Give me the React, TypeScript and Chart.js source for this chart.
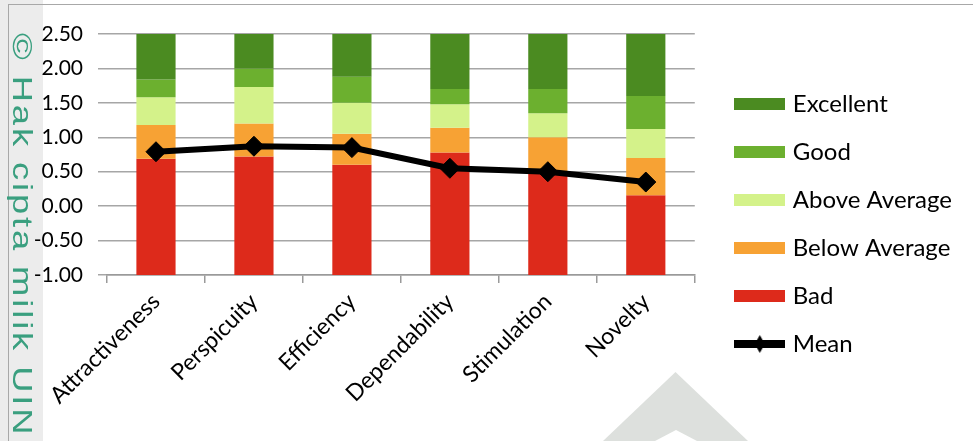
import React, { useEffect, useRef } from "react";
import { Chart, registerables } from "chart.js";

Chart.register(...registerables);

const categories = ["Attractiveness", "Perspicuity", "Efficiency", "Dependability", "Stimulation", "Novelty"];
const axisMin = -1.0;
const axisMax = 2.5;
const badUpper = [0.69, 0.72, 0.6, 0.78, 0.5, 0.16];
const belowAverageUpper = [1.18, 1.2, 1.05, 1.14, 1.0, 0.7];
const aboveAverageUpper = [1.58, 1.73, 1.5, 1.48, 1.35, 1.12];
const goodUpper = [1.84, 2.0, 1.88, 1.7, 1.7, 1.6];
const excellentUpper = [2.5, 2.5, 2.5, 2.5, 2.5, 2.5];
const meanValues = [0.79, 0.87, 0.85, 0.55, 0.5, 0.35];
const yTickValues = [-1.0, -0.5, 0.0, 0.5, 1.0, 1.5, 2.0, 2.5];

const seriesNames = ["Excellent", "Good", "Above Average", "Below Average", "Bad", "Mean"];
const seriesColors = ["#4b8b21", "#6cb02f", "#d4f28a", "#f7a234", "#dd2a1b", "#000000"];

const FONT = "Lato, 'Open Sans', sans-serif";

function range(lo: number[] | number, hi: number[]) {
  return hi.map((h, i) => [Array.isArray(lo) ? lo[i] : lo, h]);
}

function swatch(color: string, isLine: boolean): HTMLCanvasElement {
  const c = document.createElement("canvas");
  c.width = 51;
  c.height = isLine ? 18 : 12;
  const g = c.getContext("2d")!;
  g.fillStyle = color;
  if (isLine) {
    g.fillRect(0, 5, 51, 8);
    g.beginPath();
    g.moveTo(25.5, 0);
    g.lineTo(30.5, 9);
    g.lineTo(25.5, 18);
    g.lineTo(20.5, 9);
    g.closePath();
    g.fill();
  } else {
    g.fillRect(0, 0, 51, 12);
  }
  return c;
}

export default function App() {
  const ref = useRef<HTMLCanvasElement>(null);

  useEffect(() => {
    if (!ref.current) return;
    const icons = seriesColors.map((c, i) => swatch(c, i === 5));
    const bars = [
      range(goodUpper, excellentUpper),
      range(aboveAverageUpper, goodUpper),
      range(belowAverageUpper, aboveAverageUpper),
      range(badUpper, belowAverageUpper),
      range(axisMin, badUpper),
    ];
    const chart = new Chart(ref.current, {
      type: "bar",
      data: {
        labels: categories,
        datasets: [
          ...bars.map((d, i) => ({
            type: "bar" as const,
            label: seriesNames[i],
            data: d as any,
            backgroundColor: seriesColors[i],
            borderWidth: 0,
            barPercentage: 0.4,
            categoryPercentage: 1,
            order: 1,
          })),
          {
            type: "line" as const,
            label: "Mean",
            data: meanValues,
            borderColor: "#000",
            backgroundColor: "#000",
            borderWidth: 6,
            pointStyle: "rectRot",
            pointRadius: 10,
            pointBorderWidth: 1,
            pointBackgroundColor: "#000",
            pointBorderColor: "#000",
            tension: 0,
            order: 0,
          } as any,
        ],
      },
      options: {
        animation: false,
        responsive: false,
        maintainAspectRatio: false,
        layout: { padding: { top: 34, bottom: 27, left: 0, right: 11 } },
        plugins: {
          tooltip: { enabled: false },
          legend: {
            position: "right",
            maxWidth: 340,
            labels: {
              usePointStyle: true,
              pointStyleWidth: 42,
              padding: 24,
              color: "#000",
              font: { family: FONT, size: 24 },
              sort: (a: any, b: any) => a.datasetIndex - b.datasetIndex,
              generateLabels: () =>
                seriesNames.map((n, i) => ({
                  text: n,
                  datasetIndex: i,
                  pointStyle: icons[i] as any,
                  fillStyle: seriesColors[i],
                  strokeStyle: seriesColors[i],
                  lineWidth: 0,
                  hidden: false,
                  fontColor: "#000",
                })),
            },
          },
        },
        scales: {
          x: {
            stacked: true,
            grid: { drawOnChartArea: false, drawTicks: true, tickLength: 8, color: "#9a9a9a", lineWidth: 1.5 },
            border: { display: true, color: "#9a9a9a", width: 1.5 },
            ticks: {
              color: "#000",
              font: { family: FONT, size: 23 },
              maxRotation: 45,
              minRotation: 45,
              padding: 5,
            },
            afterFit: (s: any) => {
              s.height = 139;
            },
          },
          y: {
            min: axisMin,
            max: axisMax,
            grid: { color: "#a6a6a6", lineWidth: 1.5, tickLength: 9, drawTicks: true },
            border: { display: false },
            ticks: {
              color: "#000",
              font: { family: FONT, size: 21 },
              padding: 15,
              callback: (v: any) => Number(v).toFixed(2),
            },
            afterBuildTicks: (s: any) => {
              s.ticks = yTickValues.map((v) => ({ value: v }));
            },
            afterFit: (s: any) => {
              s.width = 107;
            },
          },
          gap: {
            type: "linear",
            position: "right",
            display: true,
            grid: { display: false },
            border: { display: false },
            ticks: { display: false },
            afterFit: (s: any) => {
              s.width = 20;
            },
          },
        },
      } as any,
    });
    return () => chart.destroy();
  }, []);

  return (
    <div style={{ position: "fixed", left: 0, top: 0, width: 973, height: 441, background: "#fff", overflow: "hidden" }}>
      <div style={{ position: "absolute", left: 0, top: 0, width: 43, height: 441, background: "#ececec" }} />
      <div style={{ position: "absolute", left: 8, top: 4, width: 965, height: 437, borderLeft: "1.5px solid #a8a8a8", borderTop: "1.5px solid #a8a8a8" }} />
      <div
        style={{
          position: "absolute",
          left: 603,
          top: 372,
          width: 145,
          height: 69,
          background: "#dde0dd",
          clipPath: "polygon(50% 0, 100% 100%, 0 100%)",
        }}
      />
      <div
        style={{
          position: "absolute",
          left: 655,
          top: 430,
          width: 42,
          height: 11,
          background: "#fff",
          clipPath: "polygon(50% 0, 100% 100%, 0 100%)",
        }}
      />
      <canvas ref={ref} width={973} height={441} style={{ position: "absolute", left: 0, top: 0 }} />
      <div
        style={{
          position: "absolute",
          left: 36,
          top: 33,
          transformOrigin: "0 0",
          transform: "rotate(90deg) scaleX(1.3)",
          whiteSpace: "nowrap",
          fontFamily: "'Liberation Sans', Arial, sans-serif",
          fontSize: 28,
          lineHeight: "28px",
          letterSpacing: "2.2px",
          color: "#3a9f7f",
        }}
      >
        © Hak cipta milik UIN
      </div>
    </div>
  );
}
